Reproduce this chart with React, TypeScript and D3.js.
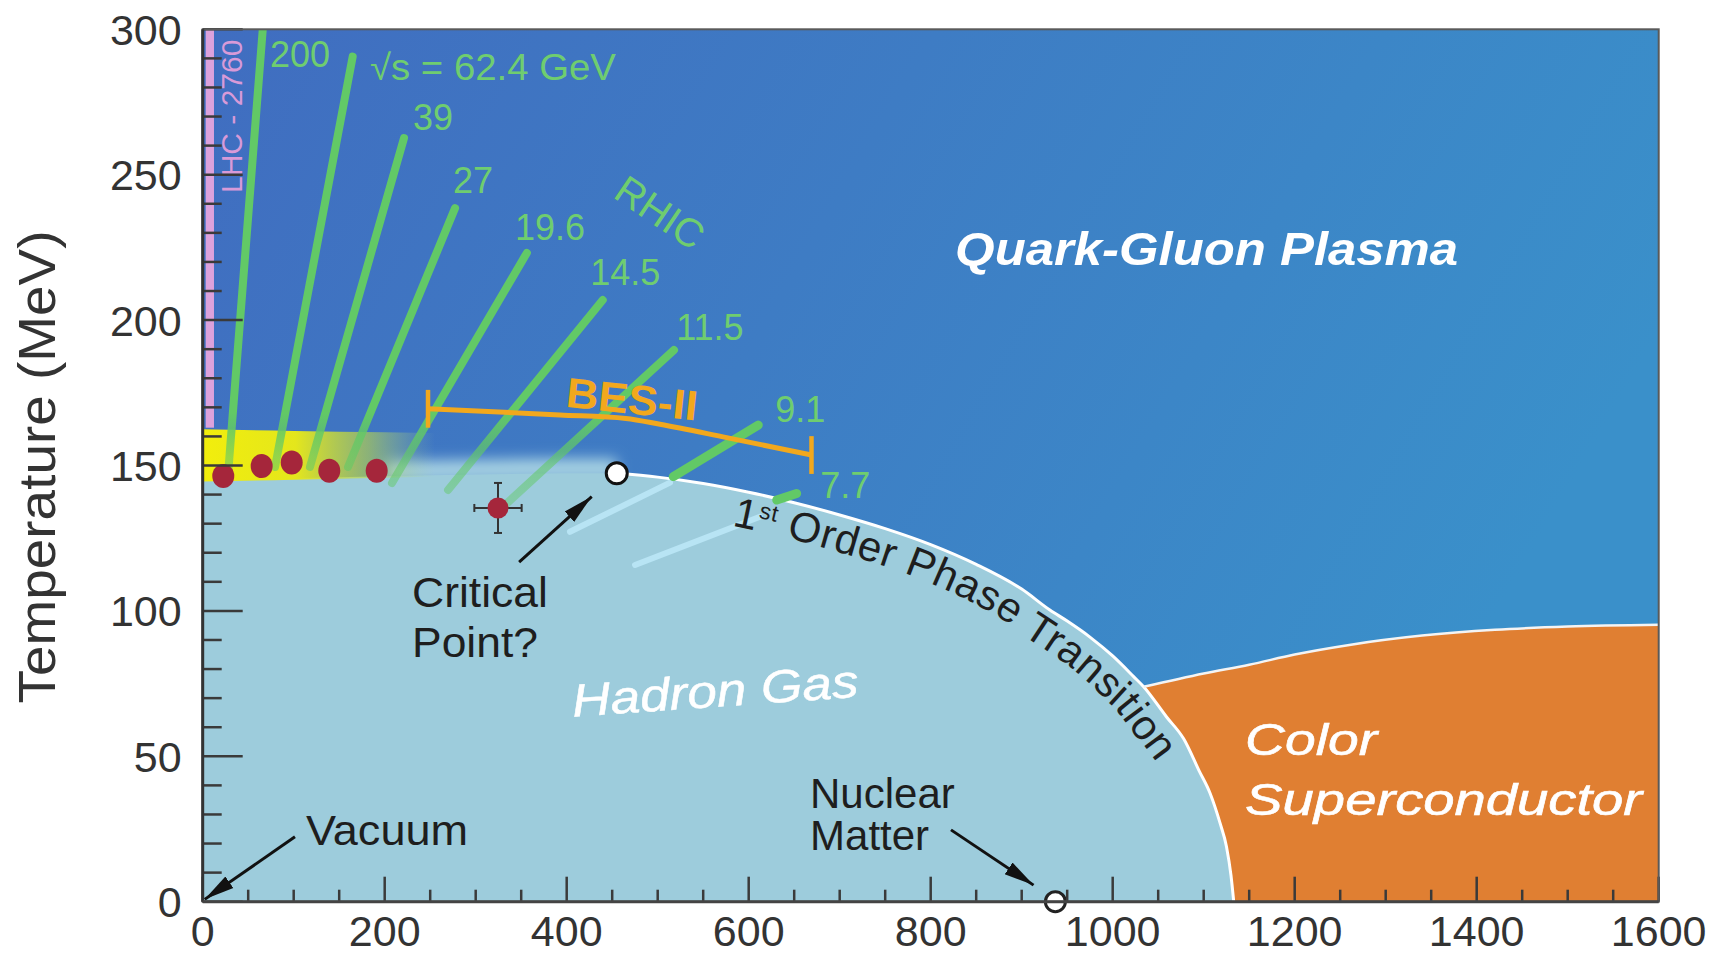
import React from "react";
import * as d3 from "d3";

type Pt = [number, number];

const WIDTH = 1724;
const HEIGHT = 955;
const PLOT = { left: 202.7, right: 1658.7, top: 29.3, bottom: 901.7 };
const FONT = '"Liberation Sans", Arial, Helvetica, sans-serif';

// axes
const MU_TICKS = [0, 200, 400, 600, 800, 1000, 1200, 1400, 1600];
const T_TICKS = [0, 50, 100, 150, 200, 250, 300];

// phase boundaries (mu_B MeV, T MeV)
const crossoverEdge: Pt[] = [
  [0, 145], [100, 145.6], [200, 146.3], [300, 146.9], [400, 147.3], [455, 147.3],
];
const firstOrderEdge: Pt[] = [
  [455, 147.3], [500, 146], [550, 143.8], [600, 140.8], [650, 137.2], [700, 133],
  [750, 128.3], [800, 122.8], [850, 116], [900, 107.5], [931, 100.3], [950, 96.5],
  [975, 91], [1000, 84.5], [1023, 77.4], [1034, 73.9], [1059, 63.6], [1078, 56],
  [1095, 45], [1107, 37.3], [1118, 27], [1125, 19], [1130, 9], [1133, 0],
];
const superconductorEdge: Pt[] = [
  [1034, 73.9], [1100, 78.5], [1150, 81.5], [1200, 85], [1260, 88.3], [1340, 91.5],
  [1420, 93.5], [1500, 94.6], [1600, 95.2],
];

// beam energy trajectories
const ENERGIES = ["200", "√s = 62.4 GeV", "39", "27", "19.6", "14.5", "11.5", "9.1", "7.7"];
const TRAJ_TOP: Pt[] = [
  [66, 300], [164.8, 290.6], [221.2, 262.6], [277.3, 238.5], [356.2, 223.1],
  [439.6, 206.9], [517.9, 189.7], [610.5, 163.9], [652.7, 140.4],
];
const TRAJ_BOTTOM: Pt[] = [
  [27.8, 146.7], [79.5, 149.5], [117.9, 149.5], [159.7, 149.5], [208, 144],
  [269.6, 141.6], [332.2, 136.4], [517.1, 146.2], [630.8, 138.1],
];
const ENERGY_LABEL_AT: Pt[] = [
  [74, 287], [183.8, 282.6], [231.1, 265.4], [275.1, 243.7], [343.2, 227.5],
  [425.8, 212.1], [520.3, 193.2], [629.1, 165], [678.5, 138.8],
];
const PALE_SEGMENTS: [Pt, Pt][] = [
  [[513.5, 144.1], [403.6, 127.2]],
  [[612.4, 132.4], [475.1, 115.8]],
];

// freeze-out points and lattice estimate
const FREEZEOUT: Pt[] = [[22.6, 146.4], [64.8, 149.8], [97.8, 151], [139.1, 148.2], [191.2, 148.2]];
const LATTICE_CP: Pt = [324.5, 135.4];
const LATTICE_ERR: Pt = [26, 8.6];
const CRITICAL_POINT: Pt = [455, 147.3];
const NUCLEAR_MATTER: Pt = [937, 0];

// BES-II reach
const BES_BAR: Pt[] = [
  [247.6, 169.5], [392.6, 167.4], [465, 166.2], [502.5, 164.2], [575.8, 159.6], [669, 153.6],
];

const ARROWS: [Pt, Pt][] = [
  [[347.7, 116.8], [427.5, 139.3]],
  [[101.4, 22.3], [2.2, 0.8]],
  [[822.3, 24.7], [913, 5.7]],
];

const x = d3.scaleLinear().domain([0, 1600]).range([PLOT.left, PLOT.right]);
const y = d3.scaleLinear().domain([0, 300]).range([PLOT.bottom, PLOT.top]);

const edgeLine = d3
  .line<Pt>()
  .x((d) => x(d[0]))
  .y((d) => y(d[1]))
  .curve(d3.curveMonotoneX);

function offsetPath(pts: Pt[], dist: number): string {
  const px = pts.map((d) => [x(d[0]), y(d[1])] as Pt);
  const n = px.length;
  const off = px.map((p, i) => {
    const a = px[Math.max(0, i - 1)];
    const b = px[Math.min(n - 1, i + 1)];
    const dx = b[0] - a[0];
    const dy = b[1] - a[1];
    const len = Math.hypot(dx, dy) || 1;
    return [p[0] - (dy / len) * dist, p[1] + (dx / len) * dist] as Pt;
  });
  return d3.line<Pt>().curve(d3.curveCatmullRom.alpha(0.5))(off) || "";
}

export default function App() {
  const fullEdge = [...crossoverEdge, ...firstOrderEdge.slice(1)];
  const hadronPath =
    `M${x(0)},${y(0)}L` + (edgeLine(fullEdge) || "").slice(1) + `L${x(1133)},${y(0)}Z`;
  const orangePath =
    (edgeLine(superconductorEdge) || "") + `L${x(1600)},${y(0)}L${x(1034)},${y(0)}Z`;

  const band = d3
    .area<Pt>()
    .x((d) => x(d[0]))
    .y0((d) => y(d[1] - 0.5))
    .y1((d) => y(d[1] + 17.5 - d[0] * 0.012))
    .curve(d3.curveMonotoneX)(crossoverEdge.filter((d) => d[0] <= 300));

  const haze = d3
    .area<Pt>()
    .x((d) => x(d[0]))
    .y0((d) => y(d[1] - 2))
    .y1((d) => y(d[1] + 5))
    .curve(d3.curveMonotoneX)(crossoverEdge.filter((d) => d[0] >= 200));

  const foText = offsetPath(
    firstOrderEdge.filter((d) => d[0] >= 550 && d[1] >= 12),
    36,
  );

  const minorT = d3.range(0, 301, 10).filter((v) => v % 50 !== 0);
  const minorMu = d3.range(0, 1601, 50).filter((v) => v % 200 !== 0);

  const green = "#62c966";
  const greenText = "#6fcd6f";
  const bes = "#f2a81d";
  const ink = "#1e1e1e";

  return (
    <>
      <style>{`body{margin:0;background:#fff}`}</style>
      <svg width={WIDTH} height={HEIGHT} style={{ display: "block" }} fontFamily={FONT}>
        <defs>
          <clipPath id="plot-clip">
            <rect x={PLOT.left} y={PLOT.top} width={PLOT.right - PLOT.left} height={PLOT.bottom - PLOT.top} />
          </clipPath>
          <linearGradient id="qgp" x1="0" y1="0" x2="1" y2="0.35">
            <stop offset="0%" stopColor="#406dc0" />
            <stop offset="45%" stopColor="#3e7cc4" />
            <stop offset="100%" stopColor="#3a90ca" />
          </linearGradient>
          <linearGradient id="band" gradientUnits="userSpaceOnUse" x1={x(0)} x2={x(255)} y1={0} y2={0}>
            <stop offset="0%" stopColor="#f2ee0c" stopOpacity={1} />
            <stop offset="40%" stopColor="#e4e61c" stopOpacity={1} />
            <stop offset="72%" stopColor="#bcd84a" stopOpacity={0.6} />
            <stop offset="100%" stopColor="#a8d2a0" stopOpacity={0} />
          </linearGradient>
          <linearGradient id="traj-fade" gradientUnits="userSpaceOnUse" x1={0} x2={0} y1={y(168)} y2={y(138)}>
            <stop offset="0%" stopColor={green} stopOpacity={1} />
            <stop offset="50%" stopColor={green} stopOpacity={0.62} />
            <stop offset="100%" stopColor={green} stopOpacity={0.45} />
          </linearGradient>
          <filter id="blur" x="-20%" y="-200%" width="140%" height="500%">
            <feGaussianBlur stdDeviation="7" />
          </filter>
          <marker
            id="arrow"
            viewBox="0 0 15 10"
            refX={15}
            refY={5}
            markerWidth={30}
            markerHeight={20}
            markerUnits="userSpaceOnUse"
            orient="auto"
          >
            <path d="M0,1.5L15,5L0,8.5Z" fill="#111" />
          </marker>
          <path id="fo-path" d={foText} />
        </defs>

        <g clipPath="url(#plot-clip)">
          <rect x={PLOT.left} y={PLOT.top} width={PLOT.right - PLOT.left} height={PLOT.bottom - PLOT.top} fill="url(#qgp)" />

          {/* LHC band */}
          <rect x={x(3.3)} y={y(300)} width={x(12.4) - x(3.3)} height={y(163) - y(300)} fill="#dca2dc" />

          <path d={orangePath} fill="#e07f32" />
          <path d={haze || ""} fill="#a8d3e3" filter="url(#blur)" />
          <path d={hadronPath} fill="#9dccdc" />
          <path d={band || ""} fill="url(#band)" />

          {/* phase lines */}
          <path d={edgeLine(firstOrderEdge) || ""} fill="none" stroke="#ffffff" strokeWidth={3} />
          <path d={edgeLine(superconductorEdge) || ""} fill="none" stroke="#f4f4f4" strokeWidth={2.5} />

          {/* continuations below the first order line */}
          {PALE_SEGMENTS.map(([a, b], i) => (
            <line
              key={`pale-${i}`}
              x1={x(a[0])}
              y1={y(a[1])}
              x2={x(b[0])}
              y2={y(b[1])}
              stroke="#b8e4f4"
              strokeWidth={6}
              strokeLinecap="round"
            />
          ))}

          {/* beam energy trajectories */}
          {ENERGIES.map((e, i) => (
            <line
              key={`traj-${e}`}
              x1={x(TRAJ_TOP[i][0])}
              y1={y(TRAJ_TOP[i][1])}
              x2={x(TRAJ_BOTTOM[i][0])}
              y2={y(TRAJ_BOTTOM[i][1])}
              stroke={i < 7 ? "url(#traj-fade)" : green}
              strokeWidth={i >= 7 ? 9 : 8}
              strokeLinecap="round"
            />
          ))}
        </g>

        {/* LHC label */}
        <text
          transform={`translate(${x(43)},${y(243.7)}) rotate(-90)`}
          fontSize={30}
          fill="#d89ad8"
        >
          LHC - 2760
        </text>

        {ENERGIES.map((e, i) => (
          <text
            key={`lab-${e}`}
            x={x(ENERGY_LABEL_AT[i][0])}
            y={y(ENERGY_LABEL_AT[i][1])}
            fontSize={36}
            fill={greenText}
            textLength={i === 1 ? 246 : undefined}
            lengthAdjust="spacingAndGlyphs"
          >
            {e}
          </text>
        ))}
        <text transform={`translate(${x(449.5)},${y(242.4)}) rotate(34)`} fontSize={40} fill={greenText}>
          RHIC
        </text>

        {/* BES-II */}
        <path
          d={d3.line<Pt>().x((d) => x(d[0])).y((d) => y(d[1])).curve(d3.curveMonotoneX)(BES_BAR) || ""}
          fill="none"
          stroke={bes}
          strokeWidth={5}
        />
        {[BES_BAR[0], BES_BAR[BES_BAR.length - 1]].map((d, i) => (
          <line key={`cap-${i}`} x1={x(d[0])} x2={x(d[0])} y1={y(d[1] + 6.5)} y2={y(d[1] - 6.5)} stroke={bes} strokeWidth={4.5} />
        ))}
        <text
          transform={`translate(${x(398)},${y(170.2)}) rotate(6)`}
          fontSize={42}
          fontWeight="bold"
          fill={bes}
          textLength={132}
          lengthAdjust="spacingAndGlyphs"
        >
          BES-II
        </text>

        {/* freeze-out points */}
        {FREEZEOUT.map((d, i) => (
          <ellipse key={`fo-${i}`} cx={x(d[0])} cy={y(d[1])} rx={11} ry={12} fill="#a5263b" />
        ))}

        {/* lattice estimate with errors */}
        <g stroke="#333" strokeWidth={2}>
          <line x1={x(LATTICE_CP[0] - LATTICE_ERR[0])} x2={x(LATTICE_CP[0] + LATTICE_ERR[0])} y1={y(LATTICE_CP[1])} y2={y(LATTICE_CP[1])} />
          <line x1={x(LATTICE_CP[0])} x2={x(LATTICE_CP[0])} y1={y(LATTICE_CP[1] - LATTICE_ERR[1])} y2={y(LATTICE_CP[1] + LATTICE_ERR[1])} />
          {[-1, 1].map((s) => (
            <line
              key={`hx${s}`}
              x1={x(LATTICE_CP[0] + s * LATTICE_ERR[0])}
              x2={x(LATTICE_CP[0] + s * LATTICE_ERR[0])}
              y1={y(LATTICE_CP[1]) - 4}
              y2={y(LATTICE_CP[1]) + 4}
            />
          ))}
          {[-1, 1].map((s) => (
            <line
              key={`hy${s}`}
              x1={x(LATTICE_CP[0]) - 4}
              x2={x(LATTICE_CP[0]) + 4}
              y1={y(LATTICE_CP[1] + s * LATTICE_ERR[1])}
              y2={y(LATTICE_CP[1] + s * LATTICE_ERR[1])}
            />
          ))}
        </g>
        <circle cx={x(LATTICE_CP[0])} cy={y(LATTICE_CP[1])} r={10.5} fill="#a5263b" />

        {/* critical point, nuclear matter */}
        <circle cx={x(CRITICAL_POINT[0])} cy={y(CRITICAL_POINT[1])} r={10.5} fill="#fff" stroke="#111" strokeWidth={3} />
        <circle cx={x(NUCLEAR_MATTER[0])} cy={y(NUCLEAR_MATTER[1])} r={10} fill="#fff" stroke="#222" strokeWidth={3} />

        {/* arrows */}
        {ARROWS.map(([a, b], i) => (
          <line
            key={`arr-${i}`}
            x1={x(a[0])}
            y1={y(a[1])}
            x2={x(b[0])}
            y2={y(b[1])}
            stroke="#111"
            strokeWidth={3}
            markerEnd="url(#arrow)"
          />
        ))}

        {/* region labels */}
        <text x={x(826.8)} y={y(218.9)} fontSize={46} fontWeight="bold" fontStyle="italic" fill="#fff" textLength={503} lengthAdjust="spacingAndGlyphs">
          Quark-Gluon Plasma
        </text>
        <text
          transform={`translate(${x(407)},${y(63.6)}) rotate(-4)`}
          fontSize={46}
          fontStyle="italic"
          fill="#fff"
          stroke="#fff"
          strokeWidth={0.5}
          textLength={287}
          lengthAdjust="spacingAndGlyphs"
        >
          Hadron Gas
        </text>
        <g fill="#fff" fontStyle="italic" fontSize={44} stroke="#fff" strokeWidth={0.6}>
          <text x={x(1145.5)} y={y(50.4)} textLength={132} lengthAdjust="spacingAndGlyphs">
            Color
          </text>
          <text x={x(1145.5)} y={y(29.8)} textLength={397} lengthAdjust="spacingAndGlyphs">
            Superconductor
          </text>
        </g>

        <g fill={ink} fontSize={42}>
          <text x={x(230)} y={y(101.3)} textLength={136} lengthAdjust="spacingAndGlyphs">Critical</text>
          <text x={x(230)} y={y(84.2)} textLength={126} lengthAdjust="spacingAndGlyphs">Point?</text>
          <text x={x(113.6)} y={y(19.5)} textLength={162} lengthAdjust="spacingAndGlyphs">Vacuum</text>
          <text x={x(667.4)} y={y(32.3)}>Nuclear</text>
          <text x={x(667.4)} y={y(17.8)}>Matter</text>
        </g>

        <text fontSize={42} fill={ink} letterSpacing={0.6}>
          <textPath href="#fo-path" startOffset={36}>
            1
            <tspan fontSize={23} dy={-13}>
              st
            </tspan>
            <tspan dy={13}> Order Phase Transition</tspan>
          </textPath>
        </text>

        {/* ticks */}
        <g stroke="#3a3a3a" strokeWidth={2.5}>
          {T_TICKS.map((t) => (
            <line key={`ty${t}`} x1={PLOT.left} x2={PLOT.left + 40} y1={y(t)} y2={y(t)} />
          ))}
          {minorT.map((t) => (
            <line key={`tym${t}`} x1={PLOT.left} x2={PLOT.left + 19} y1={y(t)} y2={y(t)} />
          ))}
          {MU_TICKS.map((m) => (
            <line key={`tx${m}`} x1={x(m)} x2={x(m)} y1={PLOT.bottom} y2={PLOT.bottom - 25} />
          ))}
          {minorMu.map((m) => (
            <line key={`txm${m}`} x1={x(m)} x2={x(m)} y1={PLOT.bottom} y2={PLOT.bottom - 12} />
          ))}
        </g>

        {/* frame */}
        <rect
          x={PLOT.left}
          y={PLOT.top}
          width={PLOT.right - PLOT.left}
          height={PLOT.bottom - PLOT.top}
          fill="none"
          stroke="#5a5a5a"
          strokeWidth={2}
        />
        <line x1={PLOT.left} x2={PLOT.left} y1={PLOT.top} y2={PLOT.bottom} stroke="#333" strokeWidth={3} />
        <line x1={PLOT.left} x2={PLOT.right} y1={PLOT.bottom} y2={PLOT.bottom} stroke="#444" strokeWidth={3} />

        {/* tick labels */}
        <g fill="#333" fontSize={43}>
          {T_TICKS.map((t) => (
            <text key={`ly${t}`} x={PLOT.left - 21} y={y(t)} dy="0.36em" textAnchor="end">
              {t}
            </text>
          ))}
          {MU_TICKS.map((m) => (
            <text key={`lx${m}`} x={x(m)} y={PLOT.bottom + 44} textAnchor="middle">
              {m}
            </text>
          ))}
        </g>

        <text
          transform={`translate(55,467) rotate(-90)`}
          textAnchor="middle"
          fontSize={52}
          fill="#333"
          textLength={473}
          lengthAdjust="spacingAndGlyphs"
        >
          Temperature (MeV)
        </text>
      </svg>
    </>
  );
}
